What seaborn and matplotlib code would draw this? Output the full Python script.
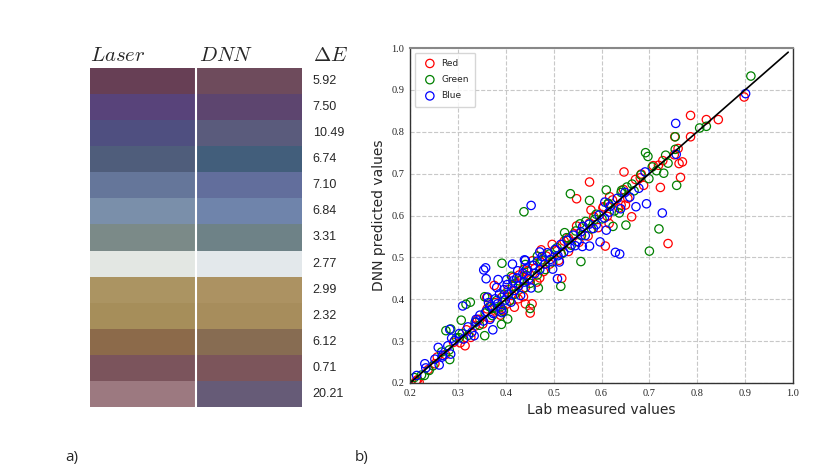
import numpy as np
import pandas as pd
import matplotlib
matplotlib.use("Agg")
import matplotlib.pyplot as plt
from matplotlib.colors import ListedColormap
import seaborn as sns

# ==========================================
# DATA
# ==========================================
# a) swatches: laser printed vs DNN predicted colour, with delta E
laser_colors = ["#673f55", "#58437a", "#4f4f80", "#4f5d7b", "#65769a", "#7a8faa", "#7b8a88",
                "#e3e7e3", "#ab9462", "#a68e5a", "#8c6a4a", "#7b545c", "#9c7980"]
dnn_colors = ["#6e4b5c", "#5d456f", "#5a5b7c", "#425e7b", "#626e9c", "#6f84ab", "#6e8287",
              "#e3e8eb", "#ac9262", "#a78d5c", "#876c52", "#7c555b", "#665b77"]
delta_e = ["5.92", "7.50", "10.49", "6.74", "7.10", "6.84", "3.31",
           "2.77", "2.99", "2.32", "6.12", "0.71", "20.21"]

# b) lab measured (x) vs DNN predicted (y), per channel
red_pts = [
    (0.786, 0.839), (0.819, 0.829), (0.844, 0.829), (0.898, 0.883), (0.786, 0.788), (0.753, 0.788),
    (0.760, 0.760), (0.762, 0.724), (0.769, 0.728), (0.765, 0.691), (0.723, 0.667), (0.647, 0.704),
    (0.575, 0.680), (0.548, 0.640), (0.578, 0.613), (0.708, 0.719), (0.719, 0.720), (0.728, 0.731),
    (0.681, 0.690), (0.683, 0.699), (0.617, 0.645), (0.603, 0.618), (0.641, 0.625), (0.650, 0.625),
    (0.663, 0.597), (0.616, 0.581), (0.575, 0.582), (0.752, 0.745), (0.739, 0.533), (0.608, 0.527),
    (0.518, 0.531), (0.517, 0.450), (0.441, 0.389), (0.455, 0.389), (0.451, 0.367), (0.437, 0.406),
    (0.376, 0.433), (0.315, 0.289), (0.252, 0.246), (0.216, 0.208), (0.219, 0.202), (0.471, 0.451),
    (0.336, 0.336), (0.346, 0.352), (0.395, 0.374), (0.360, 0.404),
    (0.213, 0.205), (0.238, 0.232), (0.257, 0.262), (0.274, 0.268), (0.291, 0.297), (0.305, 0.296),
    (0.318, 0.327), (0.327, 0.309), (0.341, 0.352), (0.352, 0.341), (0.361, 0.377), (0.368, 0.356),
    (0.377, 0.392), (0.384, 0.371), (0.392, 0.405), (0.401, 0.388), (0.405, 0.423), (0.413, 0.409),
    (0.421, 0.437), (0.426, 0.401), (0.434, 0.448), (0.441, 0.428), (0.446, 0.468), (0.452, 0.447),
    (0.461, 0.474), (0.465, 0.441), (0.472, 0.489), (0.479, 0.466), (0.485, 0.503), (0.492, 0.484),
    (0.503, 0.517), (0.511, 0.493), (0.522, 0.539), (0.531, 0.514), (0.542, 0.556), (0.553, 0.536),
    (0.561, 0.574), (0.572, 0.551), (0.584, 0.597), (0.593, 0.571), (0.604, 0.621), (0.612, 0.598),
    (0.623, 0.637), (0.636, 0.618), (0.646, 0.662), (0.655, 0.641), (0.671, 0.686), (0.688, 0.672),
    (0.437, 0.471), (0.456, 0.492), (0.474, 0.518), (0.497, 0.531), (0.389, 0.362), (0.418, 0.381),
    (0.531, 0.546), (0.548, 0.575), (0.415, 0.452), (0.428, 0.458),
]
green_pts = [
    (0.912, 0.933), (0.805, 0.809), (0.819, 0.813), (0.754, 0.788), (0.754, 0.758), (0.692, 0.750),
    (0.697, 0.741), (0.734, 0.744), (0.739, 0.725), (0.730, 0.701), (0.757, 0.672), (0.715, 0.707),
    (0.699, 0.688), (0.664, 0.675), (0.610, 0.661), (0.642, 0.660), (0.535, 0.652), (0.575, 0.636),
    (0.438, 0.609), (0.614, 0.629), (0.637, 0.606), (0.651, 0.577), (0.624, 0.574), (0.555, 0.580),
    (0.586, 0.591), (0.720, 0.568), (0.700, 0.515), (0.557, 0.490), (0.515, 0.431), (0.523, 0.559),
    (0.392, 0.486), (0.326, 0.393), (0.317, 0.388), (0.307, 0.350), (0.285, 0.329), (0.275, 0.325),
    (0.356, 0.406), (0.356, 0.313), (0.391, 0.340), (0.404, 0.353), (0.451, 0.378), (0.468, 0.427),
    (0.209, 0.213), (0.230, 0.218), (0.240, 0.230), (0.283, 0.256), (0.303, 0.308),
    (0.224, 0.219), (0.248, 0.241), (0.266, 0.274), (0.282, 0.279), (0.297, 0.308), (0.309, 0.318),
    (0.322, 0.314), (0.336, 0.345), (0.345, 0.338), (0.357, 0.367), (0.366, 0.382), (0.372, 0.361),
    (0.381, 0.397), (0.389, 0.382), (0.397, 0.412), (0.408, 0.396), (0.414, 0.431), (0.419, 0.412),
    (0.428, 0.444), (0.437, 0.426), (0.443, 0.457), (0.451, 0.438), (0.458, 0.481), (0.466, 0.458),
    (0.475, 0.494), (0.483, 0.471), (0.491, 0.508), (0.498, 0.489), (0.507, 0.523), (0.516, 0.508),
    (0.527, 0.547), (0.537, 0.529), (0.546, 0.563), (0.558, 0.552), (0.567, 0.586), (0.579, 0.568),
    (0.589, 0.603), (0.601, 0.592), (0.614, 0.628), (0.627, 0.611), (0.641, 0.655), (0.653, 0.668),
    (0.668, 0.659), (0.682, 0.697), (0.706, 0.716), (0.412, 0.455), (0.441, 0.483), (0.466, 0.503),
    (0.395, 0.371), (0.372, 0.378),
]
blue_pts = [
    (0.901, 0.891), (0.755, 0.820), (0.756, 0.746), (0.691, 0.704), (0.678, 0.665), (0.659, 0.644),
    (0.672, 0.621), (0.694, 0.628), (0.727, 0.606), (0.607, 0.632), (0.453, 0.624), (0.616, 0.608),
    (0.640, 0.616), (0.561, 0.574), (0.589, 0.578),
    (0.358, 0.475), (0.359, 0.449), (0.354, 0.470), (0.373, 0.327), (0.310, 0.384), (0.283, 0.328),
    (0.285, 0.269), (0.259, 0.285), (0.261, 0.243), (0.231, 0.246), (0.267, 0.262), (0.287, 0.307),
    (0.384, 0.447), (0.414, 0.484), (0.439, 0.494), (0.471, 0.513), (0.512, 0.489), (0.508, 0.449),
    (0.545, 0.528), (0.560, 0.526), (0.575, 0.527), (0.597, 0.537), (0.610, 0.565), (0.629, 0.512),
    (0.638, 0.508), (0.334, 0.313), (0.338, 0.352),
    (0.214, 0.218), (0.233, 0.236), (0.252, 0.257), (0.268, 0.266), (0.279, 0.289), (0.293, 0.301),
    (0.303, 0.318), (0.312, 0.305), (0.321, 0.334), (0.329, 0.321), (0.338, 0.346), (0.346, 0.362),
    (0.353, 0.348), (0.359, 0.371), (0.364, 0.392), (0.369, 0.383), (0.374, 0.366), (0.378, 0.401),
    (0.383, 0.389), (0.387, 0.413), (0.391, 0.376), (0.396, 0.423), (0.399, 0.398), (0.403, 0.435),
    (0.406, 0.412), (0.411, 0.393), (0.415, 0.444), (0.418, 0.421), (0.423, 0.451), (0.427, 0.432),
    (0.431, 0.409), (0.436, 0.462), (0.439, 0.441), (0.444, 0.472), (0.448, 0.449), (0.453, 0.427),
    (0.457, 0.481), (0.461, 0.462), (0.466, 0.491), (0.471, 0.471), (0.476, 0.502), (0.482, 0.484),
    (0.487, 0.511), (0.493, 0.495), (0.498, 0.472), (0.503, 0.519), (0.509, 0.504), (0.515, 0.531),
    (0.521, 0.512), (0.528, 0.541), (0.534, 0.523), (0.541, 0.553), (0.549, 0.538), (0.557, 0.561),
    (0.566, 0.552), (0.574, 0.579), (0.583, 0.569), (0.595, 0.601), (0.606, 0.594), (0.618, 0.622),
    (0.633, 0.641), (0.649, 0.655), (0.381, 0.428), (0.402, 0.447), (0.425, 0.468), (0.362, 0.405),
    (0.441, 0.493), (0.367, 0.352), (0.392, 0.368),
]

series = [("Red", "red", red_pts), ("Green", "green", green_pts), ("Blue", "blue", blue_pts)]

# ==========================================
# FIGURE
# ==========================================
sns.set_style("white")
plt.rcParams["mathtext.fontset"] = "cm"

fig = plt.figure(figsize=(8.3, 4.75), dpi=100)

# --- a) swatch table ---
ax_a = fig.add_axes([90 / 830, 1 - 407 / 475, 212 / 830, 339 / 475])
n = len(laser_colors)
idx = np.column_stack([np.arange(n), np.arange(n) + n])
cmap = ListedColormap(laser_colors + dnn_colors)
sns.heatmap(idx, ax=ax_a, cmap=cmap, vmin=-0.5, vmax=2 * n - 0.5, cbar=False,
            xticklabels=False, yticklabels=False)
ax_a.axvline(1, color="white", lw=1.5)
for s in ax_a.spines.values():
    s.set_visible(False)

for i, d in enumerate(delta_e):
    ax_a.text(2.1, i + 0.5, d, ha="left", va="center", fontsize=9, family="Liberation Sans")
ax_a.text(0.0, -0.12, r"$Laser$", ha="left", va="bottom", fontsize=15)
ax_a.text(1.03, -0.12, r"$DNN$", ha="left", va="bottom", fontsize=15)
ax_a.text(2.1, -0.12, r"$\Delta E$", ha="left", va="bottom", fontsize=15)

# --- b) scatter ---
ax_b = fig.add_axes([410 / 830, 1 - 383 / 475, 383 / 830, 335 / 475])
for name, col, pts in series:
    df = pd.DataFrame(pts, columns=["lab", "dnn"])
    sns.scatterplot(data=df, x="lab", y="dnn", ax=ax_b, marker="o", s=36,
                    facecolors="none", edgecolor=col, linewidth=0.9, label=name)
ax_b.plot([0.2, 0.99], [0.2, 0.99], color="black", lw=1.2)

ax_b.set_xlim(0.2, 1.0)
ax_b.set_ylim(0.2, 1.0)
ticks = [0.2, 0.3, 0.4, 0.5, 0.6, 0.7, 0.8, 0.9, 1.0]
ax_b.set_xticks(ticks)
ax_b.set_yticks(ticks)
ax_b.set_xticklabels([f"{t:.1f}" for t in ticks], family="Liberation Serif", fontsize=7.5)
ax_b.set_yticklabels([f"{t:.1f}" for t in ticks], family="Liberation Serif", fontsize=7.5)
ax_b.tick_params(direction="in", length=2, pad=4)
ax_b.grid(True, linestyle="--", color="#c8c8c8", lw=0.8)
ax_b.set_axisbelow(True)
for s in ax_b.spines.values():
    s.set_color("#333333")
    s.set_linewidth(1.0)
ax_b.spines["top"].set_color("#888888")
ax_b.spines["top"].set_linewidth(1.5)
ax_b.set_xlabel("Lab measured values", fontsize=10)
ax_b.set_ylabel("DNN predicted values", fontsize=10)

leg = ax_b.legend(loc="upper left", fontsize=6.5, frameon=True, handletextpad=0.3,
                  borderpad=0.7, labelspacing=0.8, markerscale=1.0)
leg.get_frame().set_edgecolor("#cccccc")

fig.text(72 / 830, 1 - 458 / 475, "a)", fontsize=11, family="Open Sans", va="center", ha="center")
fig.text(362 / 830, 1 - 458 / 475, "b)", fontsize=11, family="Open Sans", va="center", ha="center")

fig.savefig("out.png", dpi=100)
